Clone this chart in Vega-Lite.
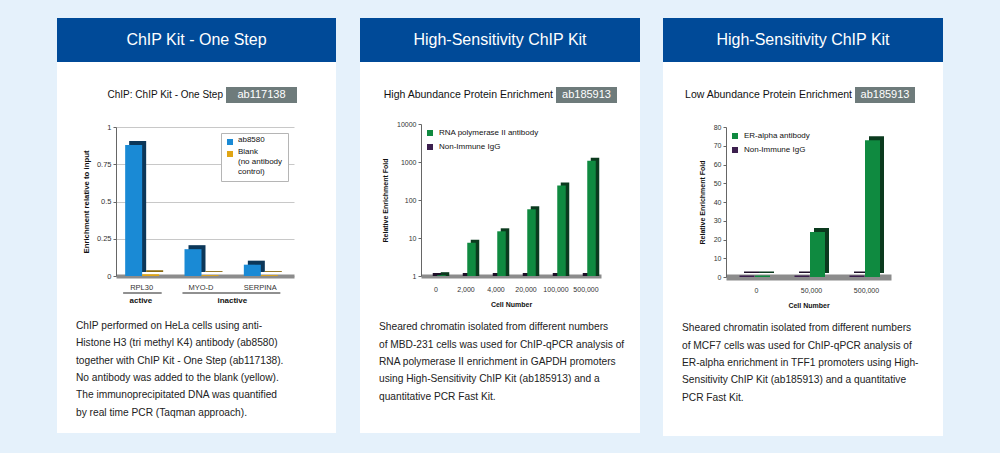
{
  "$schema": "https://vega.github.io/schema/vega-lite/v6.json",
  "background": "white",
  "padding": 0,
  "spacing": 0,
  "resolve": {"scale": {"color": "independent"}, "legend": {"color": "independent"}},
  "config": {
    "font": "Liberation Sans",
    "view": {"stroke": null},
    "concat": {"spacing": 0},
    "axis": {"labelFontSize": 7, "labelColor": "#333", "titleFontSize": 7, "titleFontWeight": "bold", "titleColor": "#111", "domainColor": "#666", "tickColor": "#666", "tickSize": 3, "labelPadding": 2, "titlePadding": 8, "grid": false},
    "axisX": {"ticks": false, "labelAngle": 0, "domainWidth": 4, "domainColor": "#8c8c8c", "domainCap": "butt", "labelPadding": 9, "titlePadding": 8},
    "legend": {"labelFontSize": 8, "labelColor": "#111", "symbolType": "square", "symbolSize": 36, "symbolStrokeWidth": 0}
  },
  "hconcat": [
    {"width": 57, "height": 460, "view": {"fill": "#e5f1fb"}, "data": {"values": []}, "mark": "point"},
    {
      "spacing": 0,
      "resolve": {"scale": {"color": "independent"}, "legend": {"color": "independent"}},
      "vconcat": [
        {"width": 279, "height": 18, "view": {"fill": "#e5f1fb"}, "data": {"values": []}, "mark": "point"},
        {"width": 279, "height": 44, "view": {"fill": "#004a98"}, "data": {"values": [{"t": "ChIP Kit - One Step"}]}, "mark": {"type": "text", "color": "white", "fontSize": 16}, "encoding": {"text": {"field": "t", "type": "nominal"}}},
        {"width": 279, "height": 25, "data": {"values": []}, "mark": "point"},
        {"spacing": 3, "hconcat": [
          {"width": 166, "height": 16, "data": {"values": [{"t": "ChIP: ChIP Kit - One Step"}]}, "mark": {"type": "text", "align": "right", "fontSize": 10, "color": "#111"}, "encoding": {"text": {"field": "t", "type": "nominal"}, "x": {"value": "width"}}},
          {"width": 71, "height": 16, "view": {"fill": "#6e7b7b"}, "data": {"values": [{"t": "ab117138"}]}, "mark": {"type": "text", "color": "white", "fontSize": 11}, "encoding": {"text": {"field": "t", "type": "nominal"}}}
        ]},
        {"width": 279, "height": 20, "data": {"values": []}, "mark": "point"},
        {"spacing": 0,
         "resolve": {"scale": {"color": "independent"}, "legend": {"color": "independent"}},
         "hconcat": [
          {"width": 25, "height": 10, "data": {"values": []}, "mark": "point"},
          {
            "width": 178, "height": 149,
            "data": {"values": [
              {"gene": "RPL30", "series": "ab8580", "value": 0.88},
              {"gene": "RPL30", "series": "Blank", "value": 0.012},
              {"gene": "MYO-D", "series": "ab8580", "value": 0.18},
              {"gene": "MYO-D", "series": "Blank", "value": 0.006},
              {"gene": "SERPINA", "series": "ab8580", "value": 0.076},
              {"gene": "SERPINA", "series": "Blank", "value": 0.006}
            ]},
            "encoding": {
              "x": {"field": "gene", "type": "nominal", "scale": {"domain": ["RPL30", "MYO-D", "SERPINA"], "paddingInner": 0, "paddingOuter": 0}, "axis": {"title": null, "labelOffset": -4, "labelFontSize": 7.5, "labelPadding": 7}},
              "y": {"field": "value", "type": "quantitative", "scale": {"domain": [0, 1], "nice": false}, "axis": {"title": "Enrichment relative to input", "titleFontSize": 7.8, "titlePadding": 6, "labelFontSize": 7.5, "values": [0, 0.25, 0.5, 0.75, 1], "labelExpr": "datum.value + ''", "grid": true, "gridColor": "#c8c8c8"}}
            },
            "layer": [
              {"transform": [{"filter": "datum.series == 'ab8580'"}], "mark": {"type": "bar", "width": 17, "xOffset": -8, "yOffset": -4, "color": "#0c3759"}},
              {"transform": [{"filter": "datum.series == 'Blank'"}], "mark": {"type": "bar", "width": 17, "xOffset": 9, "yOffset": -4, "color": "#8a6a10"}},
              {"transform": [{"filter": "datum.series == 'ab8580'"}], "mark": {"type": "bar", "width": 17, "xOffset": -12},
               "encoding": {"color": {"field": "series", "type": "nominal", "scale": {"domain": ["ab8580", "Blank"], "range": ["#1a8ad5", "#e0a514"]},
                 "legend": {"title": null, "orient": "top-right", "offset": 6, "padding": 5, "strokeColor": "#b5b5b5", "fillColor": "white", "rowPadding": 3, "labelBaseline": "alphabetic", "labelExpr": "datum.label == 'Blank' ? ['Blank', '(no antibody', 'control)'] : datum.label"}}}},
              {"transform": [{"filter": "datum.series == 'Blank'"}], "mark": {"type": "bar", "width": 17, "xOffset": 5},
               "encoding": {"color": {"field": "series", "type": "nominal"}}},
              {"data": {"values": [{"group": "active", "start": "RPL30", "end": "RPL30"}, {"group": "inactive", "start": "MYO-D", "end": "SERPINA"}]},
               "mark": {"type": "rule", "yOffset": 17, "color": "#222", "strokeWidth": 1.2},
               "encoding": {"x": {"field": "start", "type": "nominal", "bandPosition": 0.12}, "x2": {"field": "end", "bandPosition": 0.77}, "y": {"value": "height"}}},
              {"data": {"values": [{"group": "active", "at": "RPL30"}]},
               "mark": {"type": "text", "yOffset": 25, "fontSize": 8, "fontWeight": "bold", "color": "#111"},
               "encoding": {"x": {"field": "at", "type": "nominal", "bandPosition": 0.42}, "y": {"value": "height"}, "text": {"field": "group", "type": "nominal"}}},
              {"data": {"values": [{"group": "inactive", "at": "MYO-D"}]},
               "mark": {"type": "text", "yOffset": 25, "fontSize": 8, "fontWeight": "bold", "color": "#111"},
               "encoding": {"x": {"field": "at", "type": "nominal", "bandPosition": 0.96}, "y": {"value": "height"}, "text": {"field": "group", "type": "nominal"}}}
            ]
          }
        ]},
        {"width": 279, "height": 15, "data": {"values": []}, "mark": "point"},
        {"spacing": 0, "hconcat": [
          {"width": 19, "height": 10, "data": {"values": []}, "mark": "point"},
          {"width": 250, "height": 13, "data": {"values": []}, "mark": "point",
           "title": {"text": ["ChIP performed on HeLa cells using anti-", "Histone H3 (tri methyl K4) antibody (ab8580)", "together with ChIP Kit - One Step (ab117138).", "No antibody was added to the blank (yellow).", "The immunoprecipitated DNA was quantified", "by real time PCR (Taqman approach)."], "anchor": "start", "fontSize": 10.2, "fontWeight": "normal", "lineHeight": 17.4, "color": "#222", "offset": 2}}
        ]},
        {"width": 279, "height": 27, "view": {"fill": "#e5f1fb"}, "data": {"values": []}, "mark": "point"}
      ]
    },
    {"width": 24, "height": 460, "view": {"fill": "#e5f1fb"}, "data": {"values": []}, "mark": "point"},
    {
      "spacing": 0,
      "resolve": {"scale": {"color": "independent"}, "legend": {"color": "independent"}},
      "vconcat": [
        {"width": 280, "height": 18, "view": {"fill": "#e5f1fb"}, "data": {"values": []}, "mark": "point"},
        {"width": 280, "height": 44, "view": {"fill": "#004a98"}, "data": {"values": [{"t": "High-Sensitivity ChIP Kit"}]}, "mark": {"type": "text", "color": "white", "fontSize": 16}, "encoding": {"text": {"field": "t", "type": "nominal"}}},
        {"width": 280, "height": 25, "data": {"values": []}, "mark": "point"},
        {"spacing": 3, "hconcat": [
          {"width": 193, "height": 16, "data": {"values": [{"t": "High Abundance Protein Enrichment"}]}, "mark": {"type": "text", "align": "right", "fontSize": 10.5, "color": "#111"}, "encoding": {"text": {"field": "t", "type": "nominal"}, "x": {"value": "width"}}},
          {"width": 61, "height": 16, "view": {"fill": "#6e7b7b"}, "data": {"values": [{"t": "ab185913"}]}, "mark": {"type": "text", "color": "white", "fontSize": 11}, "encoding": {"text": {"field": "t", "type": "nominal"}}}
        ]},
        {"width": 280, "height": 17, "data": {"values": []}, "mark": "point"},
        {"spacing": 0,
         "resolve": {"scale": {"color": "independent"}, "legend": {"color": "independent"}},
         "hconcat": [
          {"width": 21, "height": 10, "data": {"values": []}, "mark": "point"},
          {
            "width": 180, "height": 152,
            "data": {"values": [
              {"cells": "0", "series": "RNA polymerase II antibody", "value": 1.05},
              {"cells": "2,000", "series": "RNA polymerase II antibody", "value": 7.5},
              {"cells": "4,000", "series": "RNA polymerase II antibody", "value": 15},
              {"cells": "20,000", "series": "RNA polymerase II antibody", "value": 57},
              {"cells": "100,000", "series": "RNA polymerase II antibody", "value": 240},
              {"cells": "500,000", "series": "RNA polymerase II antibody", "value": 1080},
              {"cells": "0", "series": "Non-Immune IgG", "value": 1},
              {"cells": "2,000", "series": "Non-Immune IgG", "value": 1},
              {"cells": "4,000", "series": "Non-Immune IgG", "value": 1},
              {"cells": "20,000", "series": "Non-Immune IgG", "value": 1},
              {"cells": "100,000", "series": "Non-Immune IgG", "value": 1},
              {"cells": "500,000", "series": "Non-Immune IgG", "value": 1}
            ]},
            "encoding": {
              "x": {"field": "cells", "type": "nominal", "scale": {"domain": ["0", "2,000", "4,000", "20,000", "100,000", "500,000"], "paddingInner": 0, "paddingOuter": 0}, "axis": {"title": "Cell Number"}},
              "y": {"field": "value", "type": "quantitative", "scale": {"type": "log", "domain": [1, 10000], "nice": false}, "axis": {"title": "Relative Enrichment Fold", "values": [1, 10, 100, 1000, 10000], "format": "d"}},
              "y2": {"datum": 1}
            },
            "layer": [
              {"transform": [{"filter": "datum.series == 'Non-Immune IgG'"}], "mark": {"type": "bar", "width": 8.5, "xOffset": 1, "yOffset": -3, "color": "#1e0f28"}},
              {"transform": [{"filter": "datum.series == 'RNA polymerase II antibody'"}], "mark": {"type": "bar", "width": 8.5, "xOffset": 9, "yOffset": -3, "color": "#0b3a1e"}},
              {"transform": [{"filter": "datum.series == 'Non-Immune IgG'"}], "mark": {"type": "bar", "width": 8.5, "xOffset": -3},
               "encoding": {"color": {"field": "series", "type": "nominal", "scale": {"domain": ["RNA polymerase II antibody", "Non-Immune IgG"], "range": ["#0f8a40", "#3c1f4e"]},
                 "legend": {"title": null, "orient": "top-left", "offset": 5, "padding": 0, "rowPadding": 6, "labelOffset": 5}}}},
              {"transform": [{"filter": "datum.series == 'RNA polymerase II antibody'"}], "mark": {"type": "bar", "width": 8.5, "xOffset": 5.5},
               "encoding": {"color": {"field": "series", "type": "nominal"}}}
            ]
          }
        ]},
        {"width": 280, "height": 15, "data": {"values": []}, "mark": "point"},
        {"spacing": 0, "hconcat": [
          {"width": 19, "height": 10, "data": {"values": []}, "mark": "point"},
          {"width": 255, "height": 29, "data": {"values": []}, "mark": "point",
           "title": {"text": ["Sheared chromatin isolated from different numbers", "of MBD-231 cells was used for ChIP-qPCR analysis of", "RNA polymerase II enrichment in GAPDH promoters", "using High-Sensitivity ChIP Kit (ab185913) and a", "quantitative PCR Fast Kit."], "anchor": "start", "fontSize": 10.2, "fontWeight": "normal", "lineHeight": 17.4, "color": "#222", "offset": 2}}
        ]},
        {"width": 280, "height": 27, "view": {"fill": "#e5f1fb"}, "data": {"values": []}, "mark": "point"}
      ]
    },
    {"width": 23, "height": 460, "view": {"fill": "#e5f1fb"}, "data": {"values": []}, "mark": "point"},
    {
      "spacing": 0,
      "resolve": {"scale": {"color": "independent"}, "legend": {"color": "independent"}},
      "vconcat": [
        {"width": 280, "height": 18, "view": {"fill": "#e5f1fb"}, "data": {"values": []}, "mark": "point"},
        {"width": 280, "height": 44, "view": {"fill": "#004a98"}, "data": {"values": [{"t": "High-Sensitivity ChIP Kit"}]}, "mark": {"type": "text", "color": "white", "fontSize": 16}, "encoding": {"text": {"field": "t", "type": "nominal"}}},
        {"width": 280, "height": 25, "data": {"values": []}, "mark": "point"},
        {"spacing": 3, "hconcat": [
          {"width": 189, "height": 16, "data": {"values": [{"t": "Low Abundance Protein Enrichment"}]}, "mark": {"type": "text", "align": "right", "fontSize": 10.5, "color": "#111"}, "encoding": {"text": {"field": "t", "type": "nominal"}, "x": {"value": "width"}}},
          {"width": 60, "height": 16, "view": {"fill": "#6e7b7b"}, "data": {"values": [{"t": "ab185913"}]}, "mark": {"type": "text", "color": "white", "fontSize": 11}, "encoding": {"text": {"field": "t", "type": "nominal"}}}
        ]},
        {"width": 280, "height": 20, "data": {"values": []}, "mark": "point"},
        {"spacing": 0,
         "resolve": {"scale": {"color": "independent"}, "legend": {"color": "independent"}},
         "hconcat": [
          {"width": 35, "height": 10, "data": {"values": []}, "mark": "point"},
          {
            "width": 165, "height": 150,
            "data": {"values": [
              {"cells": "0", "series": "ER-alpha antibody", "value": 0.8},
              {"cells": "50,000", "series": "ER-alpha antibody", "value": 24},
              {"cells": "500,000", "series": "ER-alpha antibody", "value": 73},
              {"cells": "0", "series": "Non-Immune IgG", "value": 0.8},
              {"cells": "50,000", "series": "Non-Immune IgG", "value": 0.8},
              {"cells": "500,000", "series": "Non-Immune IgG", "value": 0.8}
            ]},
            "encoding": {
              "x": {"field": "cells", "type": "nominal", "scale": {"domain": ["0", "50,000", "500,000"], "paddingInner": 0, "paddingOuter": 0}, "axis": {"title": "Cell Number", "labelOffset": 3, "domainWidth": 6}},
              "y": {"field": "value", "type": "quantitative", "scale": {"domain": [0, 80], "nice": false}, "axis": {"title": "Relative Enrichment Fold", "values": [0, 10, 20, 30, 40, 50, 60, 70, 80]}}
            },
            "layer": [
              {"transform": [{"filter": "datum.series == 'Non-Immune IgG'"}], "mark": {"type": "bar", "width": 15, "xOffset": -2, "yOffset": -4, "color": "#1e0f28"}},
              {"transform": [{"filter": "datum.series == 'ER-alpha antibody'"}], "mark": {"type": "bar", "width": 15, "xOffset": 13, "yOffset": -4, "color": "#0b3a1e"}},
              {"transform": [{"filter": "datum.series == 'Non-Immune IgG'"}], "mark": {"type": "bar", "width": 15, "xOffset": -6.5},
               "encoding": {"color": {"field": "series", "type": "nominal", "scale": {"domain": ["ER-alpha antibody", "Non-Immune IgG"], "range": ["#0f8a40", "#3c1f4e"]},
                 "legend": {"title": null, "orient": "top-left", "offset": 5, "padding": 0, "rowPadding": 6, "labelOffset": 5}}}},
              {"transform": [{"filter": "datum.series == 'ER-alpha antibody'"}], "mark": {"type": "bar", "width": 15, "xOffset": 9},
               "encoding": {"color": {"field": "series", "type": "nominal"}}}
            ]
          }
        ]},
        {"width": 280, "height": 15, "data": {"values": []}, "mark": "point"},
        {"spacing": 0, "hconcat": [
          {"width": 19, "height": 10, "data": {"values": []}, "mark": "point"},
          {"width": 255, "height": 31, "data": {"values": []}, "mark": "point",
           "title": {"text": ["Sheared chromatin isolated from different numbers", "of MCF7 cells was used for ChIP-qPCR analysis of", "ER-alpha enrichment in TFF1 promoters using High-", "Sensitivity ChIP Kit (ab185913) and a quantitative", "PCR Fast Kit."], "anchor": "start", "fontSize": 10.2, "fontWeight": "normal", "lineHeight": 17.4, "color": "#222", "offset": 2}}
        ]},
        {"width": 280, "height": 27, "view": {"fill": "#e5f1fb"}, "data": {"values": []}, "mark": "point"}
      ]
    },
    {"width": 57, "height": 460, "view": {"fill": "#e5f1fb"}, "data": {"values": []}, "mark": "point"}
  ]
}
